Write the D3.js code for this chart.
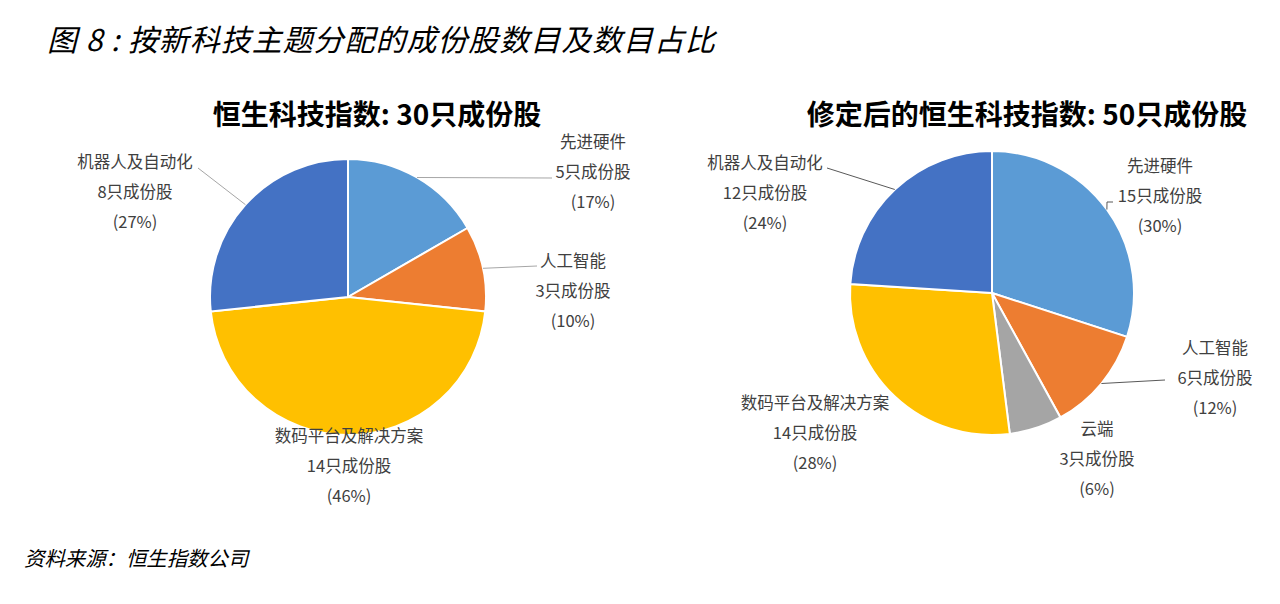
<!DOCTYPE html>
<html>
<head>
<meta charset="utf-8">
<script src="https://cdn.jsdelivr.net/npm/d3@7"></script>
<style>
  body { margin: 0; background: #fff; }
  svg text { font-family: "Noto Sans CJK SC", "Noto Sans", sans-serif; }
</style>
</head>
<body>
<script>
// data
const leftTitle = "恒生科技指数: 30只成份股";
const leftCategories = ["先进硬件", "人工智能", "数码平台及解决方案", "机器人及自动化"];
const leftCounts = [5, 3, 14, 8];
const leftPercents = [17, 10, 46, 27];

const rightTitle = "修定后的恒生科技指数: 50只成份股";
const rightCategories = ["先进硬件", "人工智能", "云端", "数码平台及解决方案", "机器人及自动化"];
const rightCounts = [15, 6, 3, 14, 12];
const rightPercents = [30, 12, 6, 28, 24];

const colors = {
  "先进硬件": "#5B9BD5",
  "人工智能": "#ED7D31",
  "云端": "#A5A5A5",
  "数码平台及解决方案": "#FFC000",
  "机器人及自动化": "#4472C4"
};

const width = 1280, height = 604;

const svg = d3.select("body").append("svg")
  .attr("width", width)
  .attr("height", height);

// heading + source
svg.append("text")
   .attr("x", 47).attr("y", 38)
   .attr("dominant-baseline", "central")
   .style("font-size", "30px")
   .style("font-style", "italic")
   .attr("fill", "#000")
   .attr("textLength", 668)
   .attr("lengthAdjust", "spacing")
   .text("图 8 : 按新科技主题分配的成份股数目及数目占比");

svg.append("text")
   .attr("x", 24).attr("y", 557)
   .attr("dominant-baseline", "central")
   .style("font-size", "20.4px")
   .style("font-style", "italic")
   .attr("fill", "#000")
   .text("资料来源：恒生指数公司");

// label placement relative to pie centre (first line), and leader end point
const leftLayout = [
  {dx: 245, dy: -156, leader: [[204, -119]]},
  {dx: 225, dy: -37, leader: [[189, -31]]},
  {dx: 1, dy: 138, leader: null},
  {dx: -213, dy: -136, leader: [[-150, -129]]}
];
const rightLayout = [
  {dx: 168, dy: -128, leader: [[115, -91], [121, -91]]},
  {dx: 223, dy: 54, leader: [[173, 87]]},
  {dx: 105, dy: 135, leader: null},
  {dx: -177, dy: 109, leader: null},
  {dx: -227, dy: -131, leader: [[-165, -125]]}
];

function drawPie(opts) {
  const g = svg.append("g")
    .attr("transform", `translate(${opts.cx}, ${opts.cy})`);

  svg.append("text")
     .attr("x", opts.titleX).attr("y", 113)
     .attr("text-anchor", "middle")
     .attr("dominant-baseline", "central")
     .style("font-size", "28px")
     .style("font-weight", "bold")
     .attr("fill", "#000")
     .text(opts.title);

  const data = opts.categories.map((c, i) => ({
    name: c, count: opts.counts[i], pct: opts.percents[i]
  }));

  const pie = d3.pie().value(d => d.count).sort(null);
  const arc = d3.arc().innerRadius(0).outerRadius(opts.r);
  const edge = d3.arc().innerRadius(opts.r).outerRadius(opts.r);
  const arcs = pie(data);

  g.selectAll("path.slice")
   .data(arcs)
   .enter()
   .append("path")
   .attr("class", "slice")
   .attr("d", arc)
   .attr("fill", d => colors[d.data.name])
   .attr("stroke", "#fff")
   .attr("stroke-width", 2);

  // leader lines
  arcs.forEach((d, i) => {
    const lay = opts.layout[i];
    if (!lay.leader) return;
    const pts = [edge.centroid(d)].concat(lay.leader);
    g.append("path")
     .attr("d", d3.line()(pts))
     .attr("fill", "none")
     .attr("stroke", opts.leaderColor)
     .attr("stroke-width", 1);
  });

  // labels
  arcs.forEach((d, i) => {
    const lay = opts.layout[i];
    const lines = [d.data.name, d.data.count + "只成份股", "(" + d.data.pct + "%)"];
    const t = g.append("text")
      .attr("text-anchor", "middle")
      .style("font-size", "16.5px")
      .attr("fill", "#404040");
    lines.forEach((ln, j) => {
      t.append("tspan")
       .attr("x", lay.dx)
       .attr("y", lay.dy + j * 30)
       .attr("dominant-baseline", "central")
       .text(ln);
    });
  });
}

drawPie({
  cx: 348, cy: 297, r: 138, titleX: 377,
  title: leftTitle, categories: leftCategories, counts: leftCounts,
  percents: leftPercents, layout: leftLayout, leaderColor: "#a6a6a6"
});

drawPie({
  cx: 992, cy: 293, r: 142, titleX: 1027,
  title: rightTitle, categories: rightCategories, counts: rightCounts,
  percents: rightPercents, layout: rightLayout, leaderColor: "#595959"
});
</script>
</body>
</html>
